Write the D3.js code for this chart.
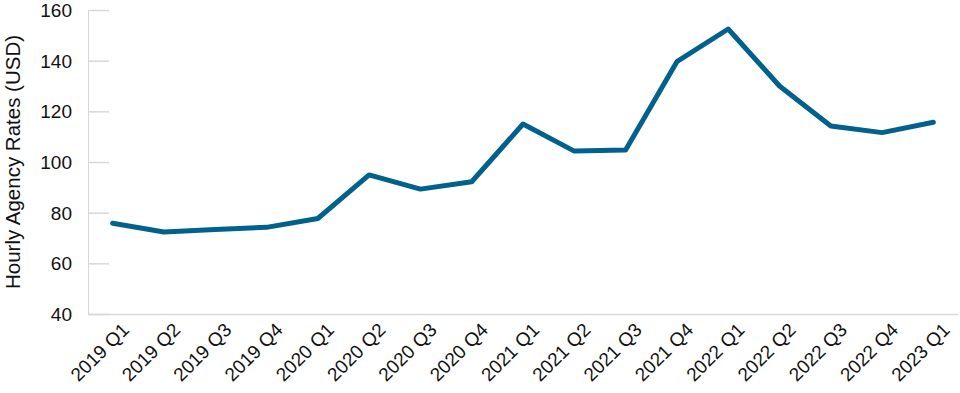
<!DOCTYPE html>
<html>
<head>
<meta charset="utf-8">
<script src="https://cdn.jsdelivr.net/npm/d3@7"></script>
<style>
  body { margin: 0; background: #fff; }
  text { font-family: "Liberation Sans", Arial, Helvetica, sans-serif; fill: #111; }
  .axis path, .axis line { stroke: #d6d8dc; }
</style>
</head>
<body>
<div id="vis"></div>
<script>
var quarters = ['2019 Q1', '2019 Q2', '2019 Q3', '2019 Q4', '2020 Q1', '2020 Q2', '2020 Q3', '2020 Q4',
    '2021 Q1', '2021 Q2', '2021 Q3', '2021 Q4', '2022 Q1', '2022 Q2', '2022 Q3', '2022 Q4', '2023 Q1'];
var rates = [75.8, 72.4, 73.4, 74.2, 77.7, 94.9, 89.3, 92.2,
    115, 104.3, 104.7, 139.6, 152.5, 130, 114.2, 111.6, 115.7];
var yTicks = [40, 60, 80, 100, 120, 140, 160];

var width = 960, height = 393;
var margin = { left: 88, right: 2, top: 10, bottom: 79 };
var drawWidth = width - margin.left - margin.right;
var drawHeight = height - margin.top - margin.bottom;

var svg = d3.select('#vis').append('svg')
    .attr('width', width)
    .attr('height', height);

var g = svg.append('g')
    .attr('transform', 'translate(' + margin.left + ',' + margin.top + ')');

var xScale = d3.scalePoint().domain(quarters).range([0, drawWidth]).padding(0.48);
var yScale = d3.scaleLinear().domain([40, 160]).range([drawHeight, 0]);

// y axis with short inward ticks
var yAxis = d3.axisRight(yScale).tickValues(yTicks).tickSize(21).tickFormat(d3.format('d'));
var yAxisG = g.append('g').attr('class', 'axis').call(yAxis);
yAxisG.select('.domain').attr('d', 'M0.5,0V' + drawHeight);
yAxisG.selectAll('.tick line').attr('stroke-width', 1.5);
yAxisG.selectAll('text')
    .attr('x', -16)
    .attr('dy', '0.35em')
    .style('text-anchor', 'end')
    .style('font-size', '19px');

// x axis
var xAxis = d3.axisBottom(xScale).tickSize(0);
var xAxisG = g.append('g').attr('class', 'axis')
    .attr('transform', 'translate(0,' + drawHeight + ')')
    .call(xAxis);
xAxisG.select('.domain').attr('d', 'M0,0.5H' + drawWidth).attr('stroke-width', 1.5);
xAxisG.selectAll('text')
    .attr('y', 0)
    .attr('dy', 0)
    .style('text-anchor', 'end')
    .style('font-size', '19px')
    .attr('transform', 'translate(17,17) rotate(-45)');

// y axis title
svg.append('text')
    .attr('transform', 'translate(20,' + 162 + ') rotate(-90)')
    .style('text-anchor', 'middle')
    .style('font-size', '20.5px')
    .text('Hourly Agency Rates (USD)');

var line = d3.line()
    .x(function(d, i) { return xScale(quarters[i]); })
    .y(function(d) { return yScale(d); });

g.append('path')
    .datum(rates)
    .attr('d', line)
    .attr('fill', 'none')
    .attr('stroke', '#00628c')
    .attr('stroke-width', 5)
    .attr('stroke-linejoin', 'round')
    .attr('stroke-linecap', 'round');
</script>
</body>
</html>
